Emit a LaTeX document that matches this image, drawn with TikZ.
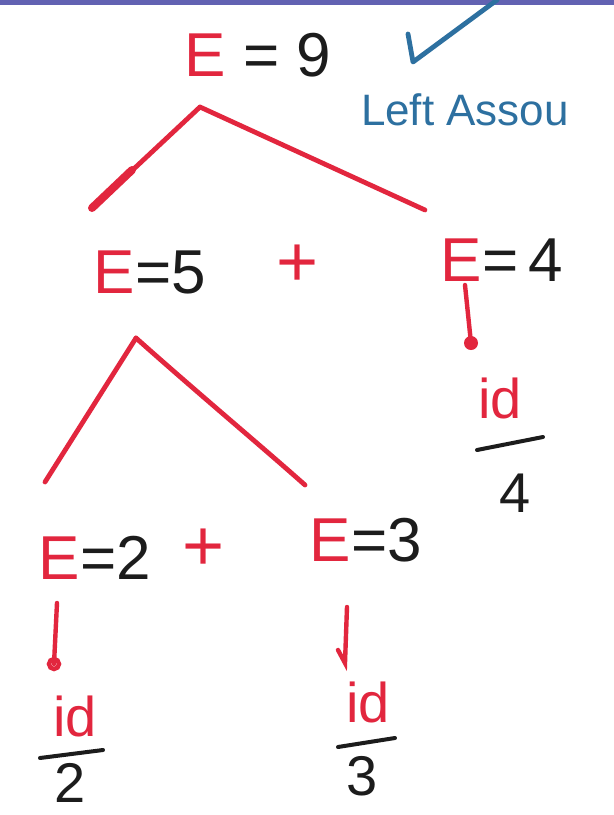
\documentclass[tikz,border=0pt]{standalone}
\usepackage{fontspec}
\setmainfont{Liberation Sans}
\definecolor{pen}{RGB}{226,38,62}
\definecolor{ink}{RGB}{28,28,28}
\definecolor{blu}{RGB}{45,112,160}
\definecolor{barc}{RGB}{98,98,178}
\begin{document}
\begin{tikzpicture}[x=0.5pt,y=-0.5pt,
  lbl/.style={font=\fontsize{31}{31}\selectfont, text=ink, inner sep=0pt, anchor=center},
  plusl/.style={font=\fontsize{36}{36}\selectfont, text=pen, inner sep=0pt},
  idl/.style={font=\fontsize{28}{28}\selectfont, text=pen, inner sep=0pt},
  numl/.style={font=\fontsize{28}{28}\selectfont, text=ink, inner sep=0pt},
  note/.style={font=\fontsize{22}{22}\selectfont, text=blu, inner sep=0pt},
  branch/.style={draw=pen, line width=2.4pt, line cap=round, line join=round},
  drop/.style={draw=pen, line width=2.2pt, line cap=round},
  fracbar/.style={draw=ink, line width=2pt, line cap=round},
  tick/.style={draw=blu, line width=2.4pt, line cap=round, line join=round}]
\path[use as bounding box, fill=white] (0,0) rectangle (614,815);
\fill[barc] (0,0) rectangle (614,5);

% labels
\node[lbl] (root) at (258,55) {\textcolor{pen}{E} = 9};
\node[note] (left) at (465,110) {Left Assou};
\node[lbl] (e5) at (150,272) {\textcolor{pen}{E}=5};
\node[plusl] (p1) at (298,266) {+};
\node[lbl] (e4) at (502,260) {\textcolor{pen}{E}=\,4};
\node[lbl] (e2) at (95,558) {\textcolor{pen}{E}=2};
\node[plusl] (p2) at (204,550) {+};
\node[lbl] (e3) at (366,540) {\textcolor{pen}{E}=3};
\node[idl] (id4) at (500,398) {id};
\node[numl] (n4) at (515,493) {4};
\node[idl] (id2) at (75,716) {id};
\node[numl] (n2) at (70,783) {2};
\node[idl] (id3) at (368,702) {id};
\node[numl] (n3) at (362,776) {3};

% check mark
\coordinate (c1) at (408,34);
\coordinate (c2) at (413,62);
\coordinate (c3) at (497,0);
\draw[tick] (c1) -- (c2) -- (c3);

% tree branches
\coordinate (a1) at (200,107);
\coordinate (l1) at (92,208);
\coordinate (t1) at (132,170);
\coordinate (r1) at (425,210);
\draw[branch] (a1) -- (l1);
\draw[branch, line width=4pt] (l1) -- (t1);
\draw[branch] (a1) -- (r1);

\coordinate (a2) at (136,338);
\coordinate (l2) at (45,482);
\coordinate (r2) at (305,485);
\draw[branch] (a2) -- (l2);
\draw[branch] (a2) .. controls (200,395) and (260,445) .. (r2);

% drops to id
\coordinate (d4s) at (465,285);
\coordinate (d4e) at (471,343);
\draw[drop] (d4s) -- (d4e);
\fill[pen] (d4e) circle (7);

\coordinate (d2s) at (57,603);
\coordinate (d2e) at (54,664);
\draw[drop] (d2s) -- (d2e);
\draw[drop] (d2e) circle (5);

\coordinate (d3s) at (347,607);
\coordinate (d3e) at (345,663);
\coordinate (d3h) at (338,650);
\draw[drop] (d3s) -- (d3e) -- (d3h);

% fraction bars
\coordinate (b4a) at (477,450); \coordinate (b4b) at (543,437);
\draw[fracbar] (b4a) -- (b4b);
\coordinate (b2a) at (40,758); \coordinate (b2b) at (103,750);
\draw[fracbar] (b2a) -- (b2b);
\coordinate (b3a) at (338,747); \coordinate (b3b) at (395,738);
\draw[fracbar] (b3a) -- (b3b);
\end{tikzpicture}
\end{document}
